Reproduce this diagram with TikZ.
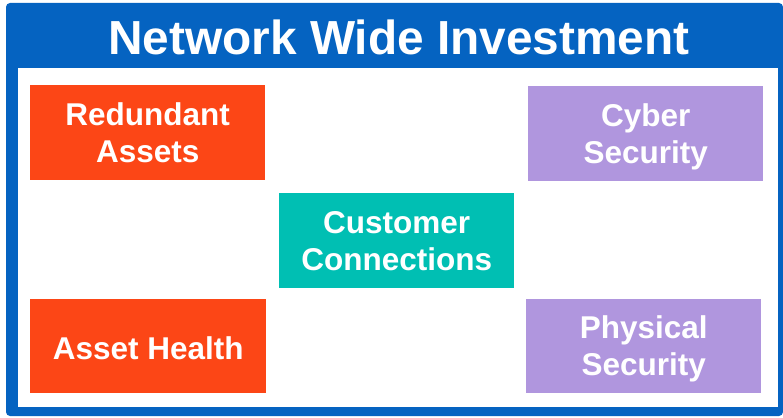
\documentclass[tikz,border=0pt]{standalone}
\usepackage{fontspec}
\setmainfont{Liberation Sans}
\definecolor{frameblue}{HTML}{0563C1}
\definecolor{boxorange}{HTML}{FC4616}
\definecolor{boxpurple}{HTML}{B096DE}
\definecolor{boxteal}{HTML}{00BFB3}
\newcommand\tln[1]{\rule[-7.7pt]{0pt}{37.4pt}#1}
\newcommand\tlnone[1]{\rule[-5.7pt]{0pt}{37.4pt}#1}
\begin{document}
\begin{tikzpicture}[x=1pt,y=-1pt,
  boxnode/.style={anchor=north west, inner sep=0pt, text=white, align=center,
    minimum width=235pt, minimum height=95pt,
    font=\fontsize{31.5}{37.4}\selectfont\bfseries},
]
\useasboundingbox (0,0) rectangle (783,417);
\fill[frameblue, rounded corners=4pt] (6,3) rectangle (783,416);
\fill[white] (18,68) rectangle (778,407);
\node[text=white, font=\fontsize{47.8}{52}\selectfont\bfseries] (title) at (399,37) {Network Wide Investment};
\node[boxnode, fill=boxorange] (red) at (30,85) {\tln{Redundant}\\\tln{Assets}};
\node[boxnode, fill=boxorange, minimum width=236pt, minimum height=94pt] (ah) at (30,299) {\tlnone{Asset Health}};
\node[boxnode, fill=boxpurple] (cyber) at (528,86) {\tln{Cyber}\\\tln{Security}};
\node[boxnode, fill=boxpurple, minimum height=94pt] (phys) at (526,299) {\tln{Physical}\\\tln{Security}};
\node[boxnode, fill=boxteal] (cust) at (279,193) {\tln{Customer}\\\tln{Connections}};
\end{tikzpicture}
\end{document}
